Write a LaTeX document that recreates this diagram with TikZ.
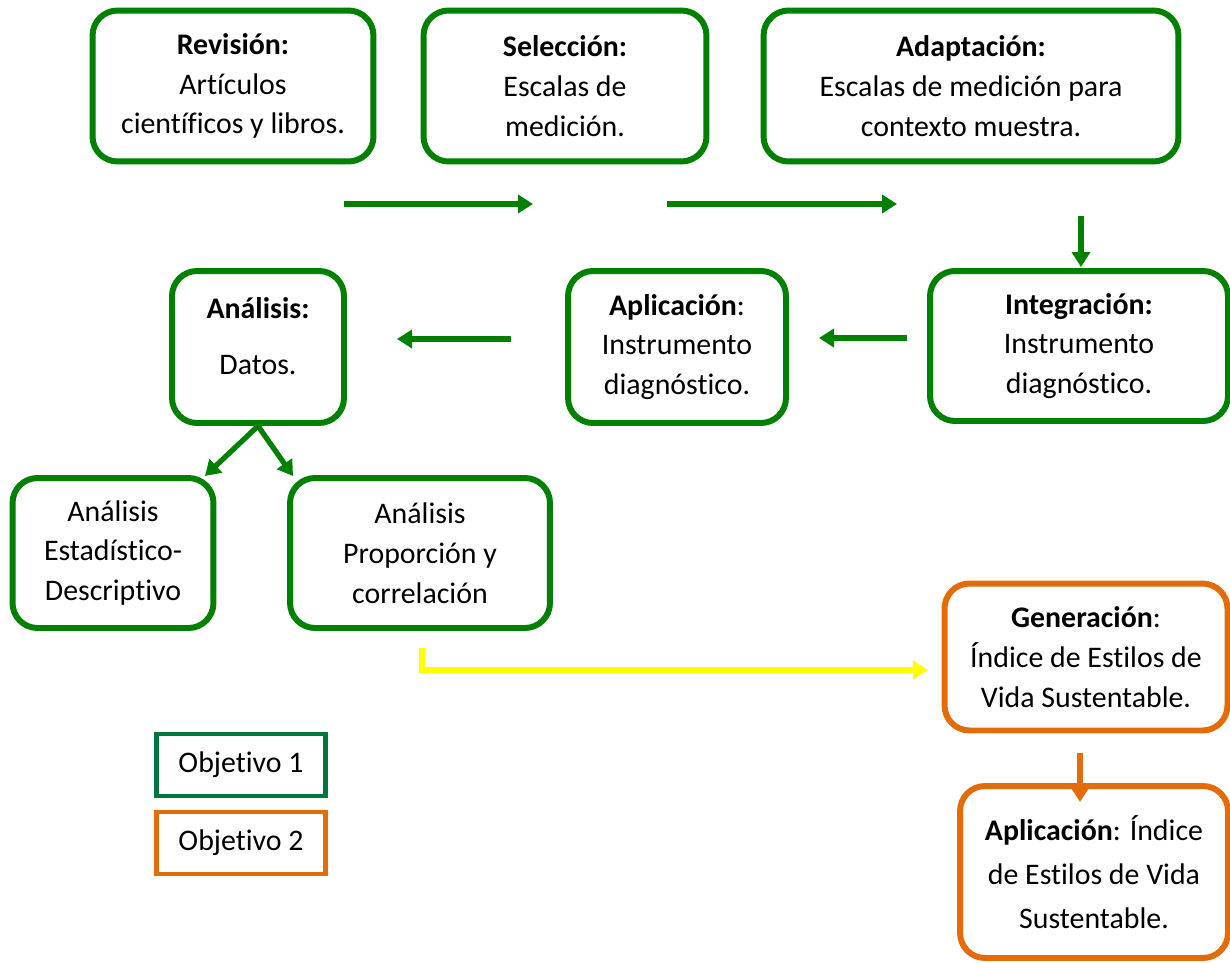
\documentclass[tikz,border=0pt]{standalone}
\usepackage{fontspec}
\setmainfont{Carlito}[Ligatures=NoCommon]
\usetikzlibrary{arrows.meta}
\definecolor{verde}{RGB}{0,128,0}
\definecolor{verdeobj}{RGB}{0,118,60}
\definecolor{naranja}{RGB}{227,108,9}
\definecolor{amarillo}{RGB}{255,255,0}
\tikzset{
  caja/.style={draw=verde, line width=3.4pt, rounded corners=0.5cm, align=center, inner sep=0pt,
    font=\fontsize{17}{22.7}\selectfont},
  cajanar/.style={caja, draw=naranja},
  leyenda/.style={draw=#1, line width=2.8pt, align=center, minimum width=3.38cm, minimum height=1.24cm,
    font=\fontsize{17}{22.7}\selectfont},
  flecha/.style={draw=verde, line width=3pt, -{Triangle[length=0.3cm,width=0.36cm]}},
}
\begin{document}
\begin{tikzpicture}[x=0.02cm,y=-0.02cm]
    \useasboundingbox (0,0) rectangle (1230,963);

    % fila superior
    \node[caja, minimum width=5.62cm, minimum height=3.02cm] (rev) at (233,86) {\textbf{Revisión:}\\ Artículos\\ científicos y libros.};
    \node[caja, minimum width=5.66cm, minimum height=3.02cm] (sel) at (565,86) {\textbf{Selección:}\\ Escalas de\\ medición.};
    \node[caja, minimum width=8.30cm, minimum height=3.02cm] (ada) at (971,86) {\textbf{Adaptación:}\\ Escalas de medición para\\ contexto muestra.};

    % fila media
    \node[caja, minimum width=5.96cm, minimum height=3.0cm] (int) at (1079,346) {\textbf{Integración:}\\ Instrumento\\ diagnóstico.};
    \node[caja, minimum width=4.36cm, minimum height=3.04cm] (apl) at (677,347) {\textbf{Aplicación}:\\ Instrumento\\ diagnóstico.};
    \node[caja, minimum width=3.44cm, minimum height=3.04cm] (ana) at (258,347) {\textbf{Análisis:}\\[0.32cm] Datos.\\[-0.36cm]\mbox{}};

    % analisis
    \node[caja, minimum width=4.02cm, minimum height=3.0cm] (est) at (113,553) {Análisis\\ Estadístico-\\ Descriptivo};
    \node[caja, minimum width=5.2cm, minimum height=3.0cm] (pro) at (420,553) {Análisis\\ Proporción y\\ correlación};

    % objetivo 2
    \node[cajanar, minimum width=5.66cm, minimum height=2.94cm] (gen) at (1086,657) {\textbf{Generación}:\\ Índice de Estilos de\\ Vida Sustentable.};
    \node[cajanar, minimum width=5.36cm, minimum height=3.44cm, font=\fontsize{17}{25}\selectfont] (ind) at (1094,872) {\textbf{Aplicación}: Índice\\ de Estilos de Vida\\ Sustentable.};

    % leyenda
    \node[leyenda=verdeobj] (obj1) at (241,765) {Objetivo 1};
    \node[leyenda=naranja] (obj2) at (241,843) {Objetivo 2};

    % extremos de flechas
    \coordinate (f1a) at (344,204);  \coordinate (f1b) at (533,204);
    \coordinate (f2a) at (667,204);  \coordinate (f2b) at (897,204);
    \coordinate (f3a) at (1081,216); \coordinate (f3b) at (1081,267);
    \coordinate (f4a) at (907,338);  \coordinate (f4b) at (819,338);
    \coordinate (f5a) at (511,339);  \coordinate (f5b) at (397,339);
    \coordinate (f6) at (205,476);   \coordinate (f7) at (293,476);
    \coordinate (y1) at (422,648);   \coordinate (y2) at (928,670);
    \coordinate (n1) at (1080,753);  \coordinate (n2) at (1080,802);

    \draw[flecha] (f1a) -- (f1b);
    \draw[flecha] (f2a) -- (f2b);
    \draw[flecha] (f3a) -- (f3b);
    \draw[flecha] (f4a) -- (f4b);
    \draw[flecha] (f5a) -- (f5b);
    \draw[flecha] (ana.south) -- (f6);
    \draw[flecha] (ana.south) -- (f7);
    \draw[flecha, draw=amarillo] (y1) |- (y2);
    \draw[flecha, draw=naranja] (n1) -- (n2);
\end{tikzpicture}
\end{document}
